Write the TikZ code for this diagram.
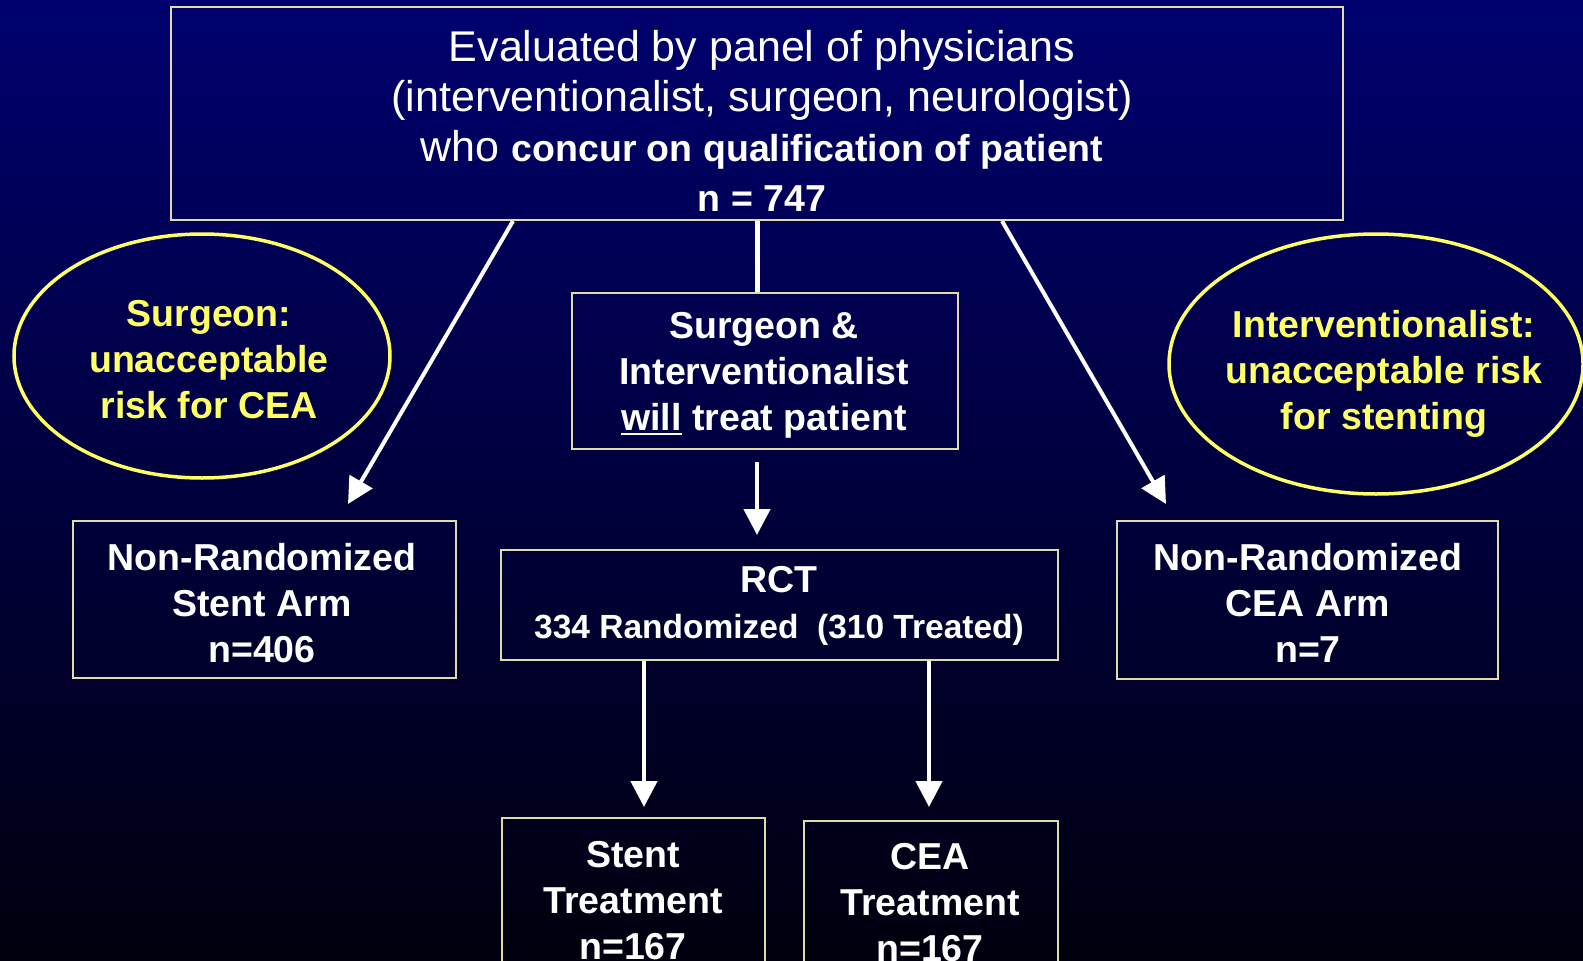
\documentclass[tikz,border=0pt]{standalone}
\usepackage{fontspec}
\setmainfont{Liberation Sans}
\usetikzlibrary{arrows.meta,calc,shapes.geometric}
\definecolor{bgtop}{RGB}{0,0,110}
\definecolor{bgmid}{RGB}{0,0,72}
\definecolor{bgbot}{RGB}{0,0,14}
\definecolor{boxline}{RGB}{225,218,170}
\definecolor{ylw}{RGB}{255,255,102}
\newcommand\ulword[1]{\setbox0\hbox{#1}\rlap{\rule[-5pt]{\wd0}{2.6pt}}\box0\relax}
\begin{document}
\begin{tikzpicture}[x=1pt,y=-1pt,
  boxnode/.style={draw=boxline,line width=2pt,rectangle,inner sep=0pt},
  ovalnode/.style={draw=ylw,line width=3.5pt,ellipse,inner sep=0pt},
  wtxt/.style={text=white,align=center,font=\fontsize{37.5}{46}\selectfont\bfseries,inner sep=0pt},
  ytxt/.style={wtxt,text=ylw},
  flow/.style={draw=white,line width=4.5pt,-{Triangle[width=26pt,length=26pt]}},
  plainline/.style={draw=white,line width=5pt}]
\useasboundingbox (0,0) rectangle (1583,961);
\clip (0,0) rectangle (1583,961);
\shade[top color=bgtop,middle color=bgmid,bottom color=bgbot] (0,0) rectangle (1583,961);

% boxes
\node[boxnode,minimum width=1172pt,minimum height=213pt] (top) at (757,113.5) {};
\node[ovalnode,minimum width=376pt,minimum height=244pt] (lov) at (202,356) {};
\node[ovalnode,minimum width=414pt,minimum height=260pt] (rov) at (1376,364) {};
\node[boxnode,minimum width=386pt,minimum height=156pt] (surg) at (765,371) {};
\node[boxnode,minimum width=557pt,minimum height=110pt] (rct) at (779.5,605) {};
\node[boxnode,minimum width=383pt,minimum height=157pt] (lnr) at (264.5,599.5) {};
\node[boxnode,minimum width=381pt,minimum height=158pt] (rnr) at (1307.5,600) {};
\node[boxnode,minimum width=263pt,minimum height=182pt] (stent) at (633.5,909) {};
\node[boxnode,minimum width=254pt,minimum height=179pt] (cea) at (931,910.5) {};

% texts
\node[wtxt,font=\fontsize{43}{50}\selectfont\mdseries] (toptxt) at (762,120.5)
 {Evaluated by panel of physicians\\(interventionalist, surgeon, neurologist)\\who {\fontsize{37.5}{50}\selectfont\bfseries concur on qualification of patient}\\{\fontsize{37.5}{50}\selectfont\bfseries n = 747}};
\node[ytxt] (lovtxt) at (209,360) {Surgeon:\\unacceptable\\risk for CEA};
\node[ytxt] (rovtxt) at (1384,374) {Interventionalist:\\unacceptable risk\\for stenting};
\node[wtxt] (surgtxt) at (764,375) {Surgeon \&\\Interventionalist\\\ulword{will} treat patient};
\node[wtxt] (lnrtxt) at (262,603) {Non-Randomized\\Stent Arm\\n=406};
\node[wtxt] (rnrtxt) at (1308,603) {Non-Randomized\\CEA Arm\\n=7};
\node[wtxt] (rcttxt) at (779,606) {RCT\\{\fontsize{33.5}{46}\selectfont 334 Randomized\ \ (310 Treated)}};
\node[wtxt] (stenttxt) at (633,901) {Stent\\Treatment\\n=167};
\node[wtxt] (ceatxt) at (930,903) {CEA\\Treatment\\n=167};

% connectors
\draw[plainline] (top.south) -- (top.south |- surg.north);
\draw[flow] ($(top.south |- surg.south)+(0,12)$) -- ($(top.south |- rct.north)+(0,-14)$);
\draw[flow,line width=4pt] ([xshift=-244pt]top.south) -- ($(lnr.north)+(83.5,-16)$);
\draw[flow,line width=4pt] ([xshift=245pt]top.south) -- ($(rnr.north)+(-141.5,-16)$);
\draw[flow] ($(rct.south)+(-135.5,0)$) -- ($(stent.north)+(10.5,-10)$);
\draw[flow] ($(rct.south)+(149.5,0)$) -- ($(cea.north)+(-2,-13)$);
\end{tikzpicture}
\end{document}
